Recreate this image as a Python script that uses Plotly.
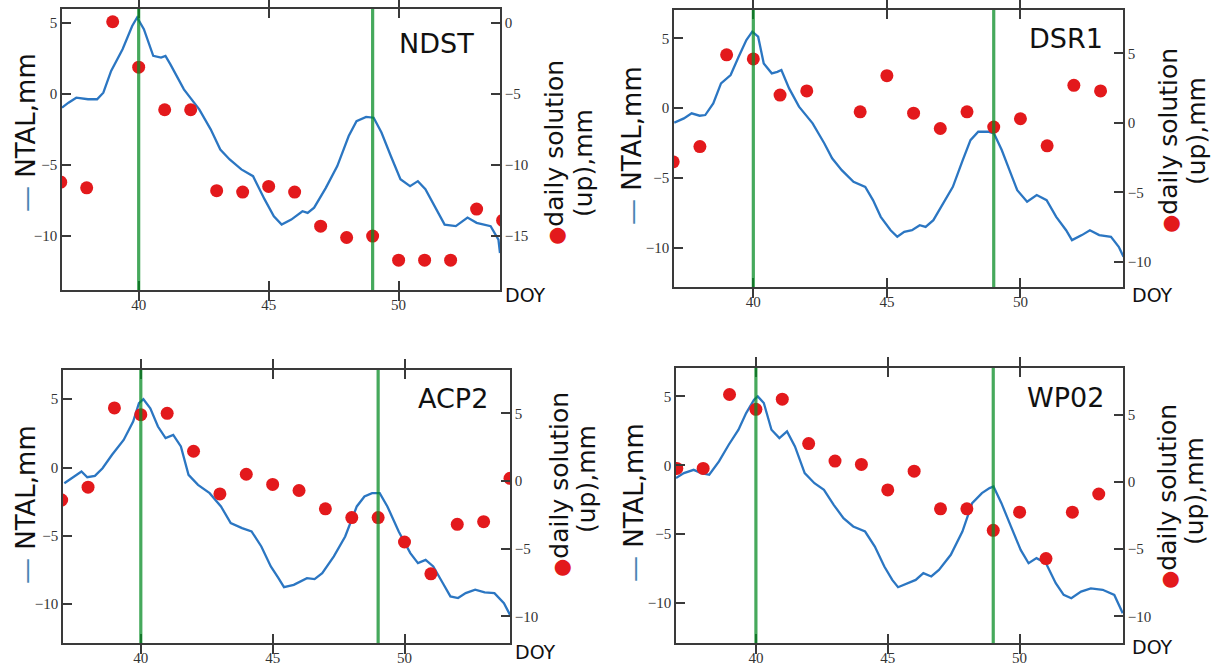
import plotly.graph_objects as go

# ---------------------------------------------------------------------------
# Data: NTAL loading (left axis, blue line) and daily GNSS up solution
# (right axis, red dots) for four stations, day-of-year 37..54
# ---------------------------------------------------------------------------
stations = ["NDST", "DSR1", "ACP2", "WP02"]
event_days = [40, 49]

ntal_doy_ndst = [37.05, 37.3, 37.6, 37.8, 38.05, 38.4, 38.64, 38.94, 39.38, 39.75, 39.94,
                 40.2, 40.56, 40.86, 41.03, 41.22, 41.74, 42.33, 42.77, 43.14, 43.5, 43.95,
                 44.4, 44.84, 45.2, 45.5, 45.87, 46.3, 46.5, 46.75, 47.2, 47.64, 48.08,
                 48.38, 48.75, 49.04, 49.34, 49.7, 50.07, 50.44, 50.74, 51.03, 51.4, 51.77,
                 52.2, 52.65, 53.0, 53.54, 53.84, 53.9]
ntal_mm_ndst = [-0.95, -0.6, -0.25, -0.3, -0.36, -0.36, 0.1, 1.64, 3.16, 4.8, 5.4,
                4.58, 2.7, 2.58, 2.7, 2.1, 0.34, -1.07, -2.48, -3.9, -4.6, -5.3,
                -5.78, -7.4, -8.6, -9.19, -8.84, -8.25, -8.37, -8.0, -6.6, -5.07, -2.95,
                -1.9, -1.6, -1.66, -2.7, -4.36, -6.0, -6.48, -6.13, -6.7, -8.0, -9.19,
                -9.3, -8.7, -9.07, -9.3, -10.25, -11.2]

ntal_doy_dsr1 = [37.04, 37.4, 37.69, 37.99, 38.2, 38.5, 38.79, 39.15, 39.45, 39.74, 39.96,
                 40.18, 40.39, 40.69, 40.9, 41.05, 41.34, 41.71, 42.22, 42.66, 42.95, 43.31,
                 43.75, 44.19, 44.48, 44.77, 45.14, 45.39, 45.65, 45.94, 46.23, 46.45, 46.74,
                 47.11, 47.47, 47.84, 48.13, 48.42, 48.79, 49.01, 49.3, 49.59, 49.88, 50.25,
                 50.61, 50.98, 51.34, 51.71, 51.93, 52.3, 52.6, 52.95, 53.39, 53.68, 53.86]
ntal_mm_dsr1 = [-1.05, -0.74, -0.38, -0.55, -0.5, 0.33, 1.77, 2.37, 3.68, 4.88, 5.48,
                5.12, 3.2, 2.49, 2.6, 2.73, 1.41, 0.1, -1.1, -2.54, -3.6, -4.45,
                -5.29, -5.65, -6.6, -7.8, -8.76, -9.23, -8.88, -8.76, -8.4, -8.52, -8.04,
                -6.84, -5.65, -3.73, -2.3, -1.7, -1.7, -1.82, -3.01, -4.45, -5.89, -6.72,
                -6.24, -6.6, -7.8, -8.76, -9.47, -9.11, -8.76, -9.11, -9.23, -9.95, -10.67]

ntal_doy_acp2 = [37.1, 37.46, 37.75, 37.97, 38.26, 38.55, 38.91, 39.35, 39.71, 39.93, 40.1,
                 40.36, 40.65, 40.94, 41.23, 41.52, 41.81, 42.17, 42.61, 43.04, 43.41, 43.84,
                 44.2, 44.57, 44.93, 45.22, 45.43, 45.8, 46.3, 46.59, 46.88, 47.32, 47.75,
                 48.19, 48.48, 48.77, 49.06, 49.35, 49.78, 50.22, 50.51, 50.8, 51.09, 51.45,
                 51.74, 52.03, 52.32, 52.68, 53.04, 53.41, 53.77, 54.03]
ntal_mm_acp2 = [-1.15, -0.66, -0.29, -0.71, -0.61, -0.05, 0.93, 2.02, 3.37, 4.71, 5.0,
                4.34, 3.0, 2.15, 2.39, 1.54, -0.54, -1.27, -1.88, -2.85, -4.07, -4.44,
                -4.68, -5.78, -7.24, -8.1, -8.76, -8.59, -8.1, -8.17, -7.73, -6.51, -5.05,
                -2.85, -2.12, -1.88, -1.88, -2.85, -4.68, -6.27, -7.0, -6.76, -7.24, -8.46,
                -9.44, -9.56, -9.2, -8.95, -9.15, -9.2, -9.93, -10.9]

ntal_doy_wp02 = [36.97, 37.27, 37.64, 37.93, 38.23, 38.6, 38.97, 39.34, 39.63, 39.93, 40.07,
                 40.3, 40.59, 40.89, 41.18, 41.48, 41.85, 42.22, 42.58, 42.95, 43.32, 43.69,
                 44.14, 44.51, 44.87, 45.17, 45.39, 45.76, 46.06, 46.35, 46.65, 46.94, 47.39,
                 47.83, 48.2, 48.57, 48.86, 49.01, 49.31, 49.67, 50.04, 50.34, 50.64, 51.0,
                 51.37, 51.67, 51.96, 52.33, 52.7, 53.15, 53.59, 53.91]
ntal_mm_wp02 = [-0.93, -0.57, -0.33, -0.57, -0.69, 0.28, 1.49, 2.58, 3.79, 4.76, 5.0,
                4.52, 2.58, 1.97, 2.46, 1.37, -0.57, -1.3, -1.78, -2.87, -3.84, -4.44,
                -4.81, -5.9, -7.35, -8.32, -8.85, -8.56, -8.32, -7.83, -8.07, -7.59, -6.5,
                -4.81, -2.75, -2.02, -1.66, -1.54, -2.75, -4.44, -6.14, -7.11, -6.74, -7.11,
                -8.56, -9.41, -9.65, -9.17, -8.93, -9.04, -9.41, -10.74]

# daily up solutions (mm)
daily_doy_ndst = [37, 38, 39, 40, 41, 42, 43, 44, 45, 46, 47, 48, 49, 50, 51, 52, 53, 54]
daily_up_ndst = [-11.2, -11.6, 0.1, -3.1, -6.1, -6.1, -11.8, -11.9, -11.5, -11.9,
                 -14.3, -15.1, -15.0, -16.7, -16.7, -16.7, -13.1, -13.9]

daily_doy_dsr1 = [37, 38, 39, 40, 41, 42, 44, 45, 46, 47, 48, 49, 50, 51, 52, 53]
daily_up_dsr1 = [-2.8, -1.7, 4.9, 4.6, 2.0, 2.3, 0.8, 3.4, 0.7, -0.4, 0.8, -0.3,
                 0.3, -1.65, 2.7, 2.3]

daily_doy_acp2 = [37, 38, 39, 40, 41, 42, 43, 44, 45, 46, 47, 48, 49, 50, 51, 52, 53, 54]
daily_up_acp2 = [-1.4, -0.45, 5.4, 4.9, 5.0, 2.2, -0.95, 0.5, -0.25, -0.7, -2.05,
                 -2.7, -2.7, -4.5, -6.85, -3.2, -3.0, 0.2]

daily_doy_wp02 = [37, 38, 39, 40, 41, 42, 43, 44, 45, 46, 47, 48, 49, 50, 51, 52, 53]
daily_up_wp02 = [1.0, 1.0, 6.5, 5.4, 6.15, 2.85, 1.55, 1.3, -0.6, 0.8, -2.0, -2.0,
                 -3.6, -2.25, -5.7, -2.25, -0.9]

doy_ticks = [40, 45, 50]
ntal_ticks = [-10, -5, 0, 5]
daily_ticks_ndst = [-15, -10, -5, 0]
daily_ticks_other = [-10, -5, 0, 5]

# ---------------------------------------------------------------------------
# Panel layout (pixel boxes of each plotting area on a 1212 x 666 canvas)
# ---------------------------------------------------------------------------
W, H = 1212, 666


def px(x):
    return x / W


def py(y):
    return 1 - y / H


panels = [
    dict(name="NDST", box=(62, 9, 500, 290), xr=[37.05, 53.9], yl=[-13.8, 6.0], yr=[-18.8, 1.0],
         ntal=(ntal_doy_ndst, ntal_mm_ndst), daily=(daily_doy_ndst, daily_up_ndst),
         rticks=daily_ticks_ndst,
         label=(436, 43), doy=(525, 295), ltitle=(26, 133), rt1=(554, 153), rt2=(583, 163)),
    dict(name="DSR1", box=(674, 10, 1123, 287), xr=[37.03, 53.84], yl=[-12.83, 7.03], yr=[-11.8, 8.12],
         ntal=(ntal_doy_dsr1, ntal_mm_dsr1), daily=(daily_doy_dsr1, daily_up_dsr1),
         rticks=daily_ticks_other,
         label=(1066, 38), doy=(1152, 295), ltitle=(632, 146), rt1=(1168, 141), rt2=(1196, 131)),
    dict(name="ACP2", box=(63, 370, 510, 643), xr=[37.05, 54.0], yl=[-12.85, 7.14], yr=[-11.96, 8.2],
         ntal=(ntal_doy_acp2, ntal_mm_acp2), daily=(daily_doy_acp2, daily_up_acp2),
         rticks=daily_ticks_other,
         label=(453, 398), doy=(535, 652), ltitle=(26, 505), rt1=(559, 485), rt2=(586, 479)),
    dict(name="WP02", box=(676, 368, 1123, 643), xr=[36.97, 53.92], yl=[-12.9, 7.06], yr=[-11.98, 8.47],
         ntal=(ntal_doy_wp02, ntal_mm_wp02), daily=(daily_doy_wp02, daily_up_wp02),
         rticks=daily_ticks_other,
         label=(1065, 397), doy=(1152, 647), ltitle=(634, 502), rt1=(1167, 497), rt2=(1194, 491)),
]

BLUE = "#2b76c2"
RED = "#e3191c"
GREEN = "rgba(8,140,38,0.75)"
AXIS = "#3a3a3a"
TICK_FONT = dict(family="Liberation Serif", size=15, color="#333333")
TITLE_FONT = "DejaVu Sans"

fig = go.Figure()
layout = dict(
    width=W, height=H,
    margin=dict(l=0, r=0, t=0, b=0),
    paper_bgcolor="white", plot_bgcolor="white",
    showlegend=False,
    shapes=[], annotations=[],
)


def text_note(text, pos, size, angle=0):
    """A free text label centred on a pixel position of the canvas."""
    return dict(text=text, x=px(pos[0]), y=py(pos[1]), xref="paper", yref="paper",
                xanchor="center", yanchor="middle", showarrow=False, textangle=angle,
                borderpad=0, font=dict(family=TITLE_FONT, size=size, color="#111111"))


for i, p in enumerate(panels):
    xa = f"x{i + 1}" if i else "x"
    yl = f"y{2 * i + 1}" if i else "y"
    yr = f"y{2 * i + 2}"
    xkey = f"xaxis{i + 1}" if i else "xaxis"
    ylkey = f"yaxis{2 * i + 1}" if i else "yaxis"
    yrkey = f"yaxis{2 * i + 2}"
    x0, y0, x1, y1 = p["box"]

    fig.add_trace(go.Scatter(x=p["ntal"][0], y=p["ntal"][1], xaxis=xa, yaxis=yl,
                             mode="lines", line=dict(color=BLUE, width=2.3),
                             name="NTAL"))
    fig.add_trace(go.Scatter(x=p["daily"][0], y=p["daily"][1], xaxis=xa, yaxis=yr,
                             mode="markers", marker=dict(color=RED, size=13),
                             name="daily solution (up)"))

    common = dict(showgrid=False, zeroline=False, showline=True, linecolor=AXIS,
                  linewidth=1.5, ticks="inside", ticklen=9, tickcolor=AXIS,
                  tickwidth=1.5, tickfont=TICK_FONT)
    layout[xkey] = dict(domain=[px(x0), px(x1)], anchor=yl, range=p["xr"],
                        tickvals=doy_ticks, mirror="allticks", **common)
    layout[ylkey] = dict(domain=[py(y1), py(y0)], anchor=xa, range=p["yl"],
                         tickvals=ntal_ticks, **common)
    layout[yrkey] = dict(domain=[py(y1), py(y0)], anchor=xa, overlaying=yl, side="right",
                         range=p["yr"], tickvals=p["rticks"], **common)

    for d in event_days:
        layout["shapes"].append(dict(type="line", xref=xa, yref=f"{yl} domain",
                                     x0=d, x1=d, y0=0, y1=1, layer="above",
                                     line=dict(color=GREEN, width=3.2)))

    ann = layout["annotations"]
    ann.append(text_note(p["name"], p["label"], 27))
    ann.append(text_note("DOY", p["doy"], 19))
    ann.append(text_note("<span style='color:#4a86b4'>—</span> NTAL,mm", p["ltitle"], 26, -90))
    ann.append(text_note(f"<span style='color:{RED};font-size:21px'>●</span>daily solution",
                         p["rt1"], 25, -90))
    ann.append(text_note("(up),mm", p["rt2"], 25, -90))

fig.update_layout(**layout)
fig.write_html("out.html")
